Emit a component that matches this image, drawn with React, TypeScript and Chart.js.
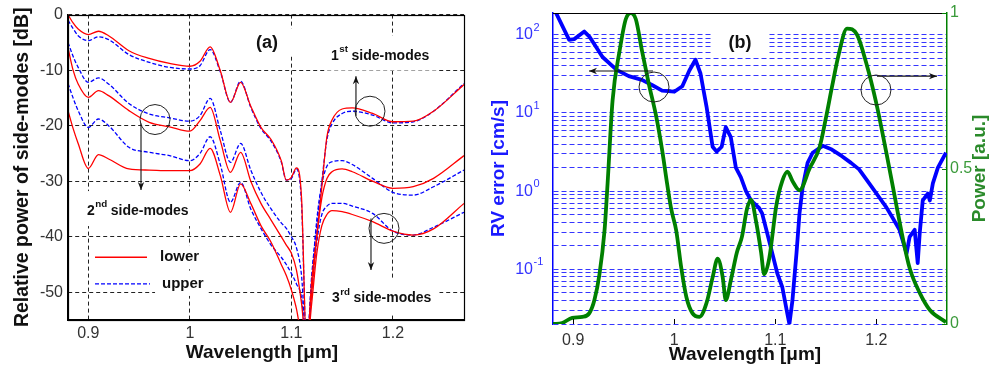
import React, { useEffect, useRef } from "react";
import { Chart, registerables } from "chart.js";

Chart.register(...registerables);

const FONT = "Arial, 'Liberation Sans', Helvetica, sans-serif";
Chart.defaults.font.family = FONT;

// ================= Panel (a): relative power of side-modes [dB] =================
const wavelengthA = [0.88, 0.885, 0.89, 0.9, 0.91, 0.92, 0.94, 0.96, 0.98, 1.0, 1.01, 1.02, 1.03, 1.04, 1.05, 1.06, 1.07, 1.08, 1.09, 1.095, 1.1, 1.105, 1.11, 1.115, 1.12, 1.125, 1.13, 1.135, 1.14, 1.15, 1.16, 1.18, 1.2, 1.22, 1.24, 1.27];
const firstLower = [0, -1.5, -2.6, -3.6, -3.0, -3.8, -6.5, -7.9, -8.8, -9.3, -8.4, -5.8, -10.1, -15.8, -12.2, -16.5, -20.3, -22.5, -26.3, -29.8, -29.3, -27.6, -33, -60, -48, -40, -31, -22, -19, -17, -16.8, -17.8, -19.3, -19.2, -17.4, -12.6];
const firstUpper = [-1, -2.5, -3.8, -4.7, -4.0, -4.5, -7.2, -8.6, -9.5, -9.8, -9.2, -6.3, -10.3, -15.8, -12.0, -16.7, -20.5, -22.8, -26.5, -29.8, -29.5, -27.8, -34, -60, -47, -38, -30, -22.5, -19.7, -17.8, -17.4, -18.1, -19.5, -19.3, -17.4, -12.4];
const secondLower = [-6, -10, -12.5, -14.9, -13.7, -14.6, -17.3, -19.4, -20.2, -21, -19.1, -16.7, -22.7, -28.4, -24.8, -30, -34, -37, -40, -41.5, -43, -46, -52, -60, -50, -40, -33, -29.5, -28.3, -27.8, -28.3, -30, -31.3, -31, -29.5, -25.4];
const secondUpper = [-5, -7.5, -9.5, -12.2, -11.4, -12.5, -16, -17.9, -18.6, -19.2, -18.2, -15.1, -20.9, -26.6, -23.2, -28, -32, -35, -37.5, -38.5, -40, -42, -47, -60, -48, -37, -30.5, -27.3, -26.5, -26.3, -27, -29.5, -32, -32.5, -31, -28];
const thirdLower = [-17.3, -20.5, -23.2, -27.7, -25.2, -26, -27.8, -28, -28.1, -28.1, -26.9, -24.1, -29, -35.6, -30.5, -34, -38, -41, -45, -47, -49.6, -53, -58, -60, -52, -43, -38, -36, -35.3, -35.5, -36, -37.3, -39, -39.7, -38.6, -34];
const thirdUpper = [-12.4, -15, -17.3, -20.3, -18.8, -20, -23.9, -24.8, -25.4, -26.3, -25, -22, -27, -33.8, -30.2, -35, -38.5, -41.5, -43.7, -45, -46.6, -48.5, -51, -60, -50, -41, -36, -34.5, -34, -34, -34.5, -35.8, -39, -39.7, -38.3, -35.6];
const wavelengthTicks = [0.9, 1.0, 1.1, 1.2];
const relPowerTicks = [0, -10, -20, -30, -40, -50];

// ================= Panel (b): RV error and power =================
const rvWavelength = [0.881, 0.883, 0.896, 0.901, 0.911, 0.916, 0.929, 0.943, 0.955, 0.968, 0.978, 0.988, 1.0, 1.008, 1.015, 1.021, 1.026, 1.032, 1.038, 1.042, 1.047, 1.051, 1.056, 1.061, 1.066, 1.071, 1.076, 1.084, 1.087, 1.094, 1.102, 1.107, 1.112, 1.114, 1.117, 1.121, 1.124, 1.127, 1.132, 1.137, 1.147, 1.156, 1.166, 1.175, 1.183, 1.193, 1.203, 1.21, 1.216, 1.223, 1.23, 1.233, 1.238, 1.241, 1.243, 1.246, 1.251, 1.253, 1.256, 1.261, 1.265, 1.269];
const rvError = [230, 190, 86, 88, 110, 95, 52, 35.6, 29.6, 26.5, 22.8, 19.3, 18.7, 22, 35, 48, 32, 12, 3.7, 3.2, 3.7, 6.6, 4.9, 2.0, 1.5, 1.0, 0.76, 0.61, 0.52, 0.23, 0.089, 0.059, 0.027, 0.02, 0.04, 0.16, 0.52, 1.1, 2.3, 3.1, 3.8, 3.4, 2.8, 2.3, 1.9, 1.26, 0.83, 0.62, 0.46, 0.32, 0.16, 0.26, 0.32, 0.12, 0.29, 0.76, 0.93, 0.76, 1.26, 2.0, 2.5, 3.1];
const powerWavelength = [0.88, 0.889, 0.899, 0.909, 0.916, 0.921, 0.926, 0.931, 0.934, 0.939, 0.946, 0.952, 0.957, 0.962, 0.968, 0.975, 0.982, 0.988, 0.993, 0.997, 1.002, 1.007, 1.012, 1.018, 1.025, 1.032, 1.038, 1.043, 1.048, 1.051, 1.056, 1.062, 1.067, 1.072, 1.076, 1.081, 1.086, 1.089, 1.094, 1.101, 1.107, 1.112, 1.117, 1.124, 1.134, 1.144, 1.15, 1.156, 1.163, 1.171, 1.181, 1.19, 1.2, 1.21, 1.22, 1.226, 1.233, 1.243, 1.253, 1.269];
const powerNorm = [0.0, 0.003, 0.02, 0.023, 0.035, 0.077, 0.16, 0.3, 0.45, 0.72, 0.88, 0.98, 1.0, 0.98, 0.88, 0.77, 0.67, 0.56, 0.45, 0.37, 0.3, 0.18, 0.087, 0.035, 0.023, 0.068, 0.15, 0.21, 0.15, 0.077, 0.14, 0.23, 0.28, 0.37, 0.4, 0.33, 0.23, 0.16, 0.21, 0.38, 0.46, 0.49, 0.46, 0.43, 0.5, 0.57, 0.66, 0.76, 0.87, 0.95, 0.93, 0.84, 0.71, 0.55, 0.38, 0.28, 0.18, 0.1, 0.045, 0.006];
const rvGridValues = [0.02, 0.03, 0.04, 0.05, 0.06, 0.07, 0.08, 0.09, 0.1, 0.2, 0.3, 0.4, 0.5, 0.6, 0.7, 0.8, 0.9, 1, 2, 3, 4, 5, 6, 7, 8, 9, 10, 20, 30, 40, 50, 60, 70, 80, 90, 100];
const rvDecadeValues = [100, 10, 1, 0.1];
const rvDecadeExponents = ["2", "1", "0", "-1"];
const powerTicks = [0, 0.5, 1];

// ================= styles & annotations =================
const RED = "#ff0000";
const BLUE = "#0000ff";
const GRID_BLUE = "#3535ff";
const GREEN = "#008000";

const annotA = {
  panel: { text: "(a)", x: 1.076, y: -5.2 },
  labels: [
    { order: "1", sup: "st", x: 1.139, y: -8.1 },
    { order: "2", sup: "nd", x: 0.8987, y: -36.1 },
    { order: "3", sup: "rd", x: 1.14, y: -51.8 },
  ],
  arrows: [
    { x: 1.1636, y1: -18.2, y2: -11.1 },
    { x: 0.9519, y1: -19.6, y2: -31.6 },
    { x: 1.1784, y1: -36.7, y2: -46.0 },
  ],
  circles: [
    { x: 1.1774, y: -17.4 },
    { x: 0.9657, y: -18.9 },
    { x: 1.1912, y: -38.5 },
  ],
  legend: [
    { label: "lower", color: RED, dash: [] as number[], x1: 0.9066, x2: 0.9578, y: -43.7, tx: 0.9706 },
    { label: "upper", color: BLUE, dash: [4, 2], x1: 0.9066, x2: 0.9608, y: -48.5, tx: 0.9726 },
  ],
};

const annotB = {
  panel: { text: "(b)", x: 1.0651, p: 0.9035 },
  arrows: [
    { y: 0.8135, x1: 0.979, x2: 0.9156 },
    { y: 0.797, x1: 1.2007, x2: 1.2601 },
  ],
  circles: [
    { x: 0.98, p: 0.762 },
    { x: 1.1997, p: 0.7524 },
  ],
};

function xy(xs: number[], ys: number[]) {
  return xs.map((x, i) => ({ x, y: ys[i] }));
}
function setTicks(values: number[]) {
  return (scale: any) => {
    scale.ticks = values.map((value) => ({ value }));
  };
}
function fmt(v: any) {
  return String(Math.round(Number(v) * 100) / 100);
}
function drawArrow(ctx: CanvasRenderingContext2D, x1: number, y1: number, x2: number, y2: number) {
  ctx.beginPath();
  ctx.moveTo(x1, y1);
  ctx.lineTo(x2, y2);
  ctx.stroke();
  const a = Math.atan2(y2 - y1, x2 - x1);
  const L = 8, W = 3.2;
  ctx.beginPath();
  ctx.moveTo(x2, y2);
  ctx.lineTo(x2 - L * Math.cos(a) + W * Math.sin(a), y2 - L * Math.sin(a) - W * Math.cos(a));
  ctx.lineTo(x2 - L * 0.7 * Math.cos(a), y2 - L * 0.7 * Math.sin(a));
  ctx.lineTo(x2 - L * Math.cos(a) - W * Math.sin(a), y2 - L * Math.sin(a) + W * Math.cos(a));
  ctx.closePath();
  ctx.fill();
}
function drawCircle(ctx: CanvasRenderingContext2D, cx: number, cy: number, r: number) {
  ctx.beginPath();
  ctx.arc(cx, cy, r, 0, Math.PI * 2);
  ctx.stroke();
}
function measureOrdinal(ctx: CanvasRenderingContext2D, order: string, sup: string, size: number) {
  ctx.font = `bold ${size}px ${FONT}`;
  const w1 = ctx.measureText(order).width;
  const w3 = ctx.measureText("side-modes").width;
  ctx.font = `bold ${size * 0.7}px ${FONT}`;
  const w2 = ctx.measureText(sup).width;
  return { w1, w2, w3, total: w1 + w2 + 4 + w3 };
}
function drawOrdinal(ctx: CanvasRenderingContext2D, x: number, y: number, order: string, sup: string, size: number) {
  const m = measureOrdinal(ctx, order, sup, size);
  ctx.textAlign = "left";
  ctx.textBaseline = "alphabetic";
  ctx.font = `bold ${size}px ${FONT}`;
  ctx.fillText(order, x, y);
  ctx.font = `bold ${size * 0.7}px ${FONT}`;
  ctx.fillText(sup, x + m.w1 + 0.5, y - size * 0.55);
  ctx.font = `bold ${size}px ${FONT}`;
  ctx.fillText("side-modes", x + m.w1 + m.w2 + 4, y);
}
function rotatedText(ctx: CanvasRenderingContext2D, text: string, x: number, y: number, font: string, color: string) {
  ctx.save();
  ctx.translate(x, y);
  ctx.rotate(-Math.PI / 2);
  ctx.font = font;
  ctx.fillStyle = color;
  ctx.textAlign = "center";
  ctx.textBaseline = "middle";
  ctx.fillText(text, 0, 0);
  ctx.restore();
}

const SIDE_SIZE = 14;
const LEG_SIZE = 15;

const panelAPlugin = {
  id: "panelA",
  beforeDatasetsDraw(chart: any) {
    const { ctx } = chart;
    const xs = chart.scales.x, ys = chart.scales.y;
    ctx.save();
    ctx.fillStyle = "#fff";
    const pcx = xs.getPixelForValue(annotA.panel.x), pcy = ys.getPixelForValue(annotA.panel.y);
    ctx.fillRect(pcx - 27, pcy - 15, 54, 28);
    for (const l of annotA.labels) {
      const px = xs.getPixelForValue(l.x), py = ys.getPixelForValue(l.y);
      const m = measureOrdinal(ctx, l.order, l.sup, SIDE_SIZE);
      ctx.fillStyle = "#fff";
      ctx.fillRect(px - 5, py - 24, m.total + 13, 35);
    }
    for (const g of annotA.legend) {
      const tx = xs.getPixelForValue(g.tx), ty = ys.getPixelForValue(g.y);
      ctx.font = `bold ${LEG_SIZE}px ${FONT}`;
      const w = ctx.measureText(g.label).width;
      ctx.fillStyle = "#fff";
      ctx.fillRect(tx - 7, ty - 12, w + 12, 24);
    }
    ctx.restore();
  },
  afterDatasetsDraw(chart: any) {
    const { ctx, chartArea: ca } = chart;
    const xs = chart.scales.x, ys = chart.scales.y;
    ctx.save();
    ctx.strokeStyle = "#000";
    ctx.lineWidth = 1.2;
    ctx.setLineDash([]);
    ctx.strokeRect(Math.round(ca.left) + 0.5, Math.round(ca.top) + 0.5, Math.round(ca.right - ca.left), Math.round(ca.bottom - ca.top));
    ctx.fillStyle = "#111";
    ctx.font = `bold 18px ${FONT}`;
    ctx.textAlign = "center";
    ctx.textBaseline = "middle";
    ctx.fillText(annotA.panel.text, xs.getPixelForValue(annotA.panel.x), ys.getPixelForValue(annotA.panel.y));
    for (const l of annotA.labels) {
      drawOrdinal(ctx, xs.getPixelForValue(l.x), ys.getPixelForValue(l.y), l.order, l.sup, SIDE_SIZE);
    }
    ctx.strokeStyle = "#111";
    ctx.fillStyle = "#111";
    ctx.lineWidth = 1.1;
    for (const a of annotA.arrows) {
      const px = xs.getPixelForValue(a.x);
      drawArrow(ctx, px, ys.getPixelForValue(a.y1), px, ys.getPixelForValue(a.y2));
    }
    ctx.strokeStyle = "#222";
    ctx.lineWidth = 1;
    for (const c of annotA.circles) {
      drawCircle(ctx, xs.getPixelForValue(c.x), ys.getPixelForValue(c.y), 15);
    }
    for (const g of annotA.legend) {
      const py = ys.getPixelForValue(g.y);
      ctx.strokeStyle = g.color;
      ctx.lineWidth = 1.3;
      ctx.setLineDash(g.dash);
      ctx.beginPath();
      ctx.moveTo(xs.getPixelForValue(g.x1), py);
      ctx.lineTo(xs.getPixelForValue(g.x2), py);
      ctx.stroke();
      ctx.setLineDash([]);
      ctx.fillStyle = "#111";
      ctx.font = `bold ${LEG_SIZE}px ${FONT}`;
      ctx.textAlign = "left";
      ctx.textBaseline = "middle";
      ctx.fillText(g.label, xs.getPixelForValue(g.tx), py);
    }
    rotatedText(ctx, "Relative power of side-modes [dB]", ca.left - 45, (ca.top + ca.bottom) / 2, `bold 19.5px ${FONT}`, "#111");
    ctx.fillStyle = "#111";
    ctx.font = `bold 19px ${FONT}`;
    ctx.textAlign = "center";
    ctx.textBaseline = "middle";
    ctx.fillText("Wavelength [\u03bcm]", (ca.left + ca.right) / 2 - 4, ca.bottom + 33);
    ctx.restore();
  },
};

const panelBPlugin = {
  id: "panelB",
  beforeDatasetsDraw(chart: any) {
    const { ctx } = chart;
    const xs = chart.scales.x, ps = chart.scales.y1;
    ctx.save();
    ctx.fillStyle = "#fff";
    const cx = xs.getPixelForValue(annotB.panel.x), cy = ps.getPixelForValue(annotB.panel.p);
    ctx.fillRect(cx - 27, cy - 12, 54, 24);
    ctx.restore();
  },
  afterDatasetsDraw(chart: any) {
    const { ctx, chartArea: ca } = chart;
    const xs = chart.scales.x, ys = chart.scales.y, ps = chart.scales.y1;
    ctx.save();
    ctx.strokeStyle = "#000";
    ctx.lineWidth = 1.2;
    ctx.beginPath();
    ctx.moveTo(ca.left, Math.round(ca.top) + 0.5);
    ctx.lineTo(ca.right, Math.round(ca.top) + 0.5);
    ctx.stroke();
    ctx.lineWidth = 1;
    for (const t of wavelengthTicks) {
      const px = Math.round(xs.getPixelForValue(t)) + 0.5;
      ctx.beginPath();
      ctx.moveTo(px, ca.bottom);
      ctx.lineTo(px, ca.bottom - 5);
      ctx.stroke();
    }
    ctx.strokeStyle = GREEN;
    for (const t of powerTicks) {
      const py = Math.round(ps.getPixelForValue(t)) + 0.5;
      ctx.beginPath();
      ctx.moveTo(ca.right, py);
      ctx.lineTo(ca.right - 5, py);
      ctx.stroke();
    }
    ctx.fillStyle = "#111";
    ctx.font = `bold 18px ${FONT}`;
    ctx.textAlign = "center";
    ctx.textBaseline = "middle";
    ctx.fillText(annotB.panel.text, xs.getPixelForValue(annotB.panel.x), ps.getPixelForValue(annotB.panel.p));
    ctx.strokeStyle = "#111";
    ctx.fillStyle = "#111";
    ctx.lineWidth = 1.1;
    for (const a of annotB.arrows) {
      const py = ps.getPixelForValue(a.y);
      drawArrow(ctx, xs.getPixelForValue(a.x1), py, xs.getPixelForValue(a.x2), py);
    }
    ctx.strokeStyle = "#222";
    ctx.lineWidth = 1;
    for (const c of annotB.circles) {
      drawCircle(ctx, xs.getPixelForValue(c.x), ps.getPixelForValue(c.p), 15);
    }
    rvDecadeValues.forEach((v, i) => {
      const py = ys.getPixelForValue(v);
      const xr = ca.left - 20;
      ctx.fillStyle = "#3333ff";
      ctx.font = `16px ${FONT}`;
      ctx.textAlign = "right";
      ctx.textBaseline = "middle";
      ctx.fillText("10", xr, py);
      ctx.font = `11px ${FONT}`;
      ctx.textAlign = "left";
      ctx.fillText(rvDecadeExponents[i], xr + 0.5, py - 7);
    });
    rotatedText(ctx, "RV error [cm/s]", ca.left - 54, (ca.top + ca.bottom) / 2, `bold 19px ${FONT}`, "#1a1aff");
    rotatedText(ctx, "Power [a.u.]", ca.right + 33, (ca.top + ca.bottom) / 2, `bold 19px ${FONT}`, "#2a8a2a");
    ctx.fillStyle = "#111";
    ctx.font = `bold 19px ${FONT}`;
    ctx.textAlign = "center";
    ctx.textBaseline = "middle";
    ctx.fillText("Wavelength [\u03bcm]", (ca.left + ca.right) / 2 - 5, ca.bottom + 31);
    ctx.restore();
  },
};

function configA(): any {
  const series = [
    { data: firstLower, color: RED, dash: [] as number[] },
    { data: firstUpper, color: BLUE, dash: [4, 2] },
    { data: secondLower, color: RED, dash: [] as number[] },
    { data: secondUpper, color: BLUE, dash: [4, 2] },
    { data: thirdLower, color: RED, dash: [] as number[] },
    { data: thirdUpper, color: BLUE, dash: [4, 2] },
  ];
  return {
    type: "line",
    data: {
      datasets: series.map((s) => ({
        data: xy(wavelengthA, s.data),
        borderColor: s.color,
        borderDash: s.dash,
        borderWidth: 1.3,
        pointRadius: 0,
        fill: false,
        cubicInterpolationMode: "monotone",
      })),
    },
    options: {
      animation: false,
      responsive: false,
      events: [],
      layout: { padding: { top: 14, right: 26, left: 0, bottom: 0 } },
      plugins: { legend: { display: false }, tooltip: { enabled: false } },
      scales: {
        x: {
          type: "linear",
          min: 0.88,
          max: 1.27,
          afterBuildTicks: setTicks(wavelengthTicks),
          afterFit: (s: any) => { s.height = 51; },
          ticks: { color: "#333", font: { size: 16, family: FONT }, padding: 4, maxRotation: 0, autoSkip: false, callback: fmt },
          grid: { color: "#222", lineWidth: 1, drawTicks: false },
          border: { display: true, color: "#000", width: 1.2, dash: [4, 3] },
        },
        y: {
          type: "linear",
          min: -55,
          max: 0,
          afterBuildTicks: setTicks(relPowerTicks),
          afterFit: (s: any) => { s.width = 68; },
          ticks: { color: "#333", font: { size: 16, family: FONT }, padding: 5, autoSkip: false, callback: fmt },
          grid: { color: "#222", lineWidth: 1, drawTicks: false },
          border: { display: true, color: "#000", width: 1.2, dash: [4, 3] },
        },
      },
    },
    plugins: [panelAPlugin],
  };
}

function configB(): any {
  return {
    type: "line",
    data: {
      datasets: [
        {
          data: xy(powerWavelength, powerNorm),
          yAxisID: "y1",
          borderColor: GREEN,
          borderWidth: 3.8,
          pointRadius: 0,
          fill: false,
          cubicInterpolationMode: "monotone",
          borderJoinStyle: "round",
        },
        {
          data: xy(rvWavelength, rvError),
          yAxisID: "y",
          borderColor: BLUE,
          borderWidth: 3.8,
          pointRadius: 0,
          fill: false,
          tension: 0,
          borderJoinStyle: "round",
        },
      ],
    },
    options: {
      animation: false,
      responsive: false,
      events: [],
      layout: { padding: { top: 13, right: 0, left: 0, bottom: 0 } },
      plugins: { legend: { display: false }, tooltip: { enabled: false } },
      scales: {
        x: {
          type: "linear",
          min: 0.88,
          max: 1.27,
          afterBuildTicks: setTicks(wavelengthTicks),
          afterFit: (s: any) => { s.height = 47; },
          ticks: { color: "#333", font: { size: 16, family: FONT }, padding: 7, maxRotation: 0, autoSkip: false, callback: fmt },
          grid: { display: false, drawTicks: false },
          border: { display: false },
        },
        y: {
          type: "logarithmic",
          position: "left",
          min: 0.02,
          max: 190,
          afterBuildTicks: setTicks(rvGridValues),
          afterFit: (s: any) => { s.width = 63; },
          ticks: { display: false, autoSkip: false },
          grid: { color: GRID_BLUE, lineWidth: 1, drawTicks: false },
          border: { display: true, color: BLUE, width: 1.5, dash: [5, 3] },
        },
        y1: {
          type: "linear",
          position: "right",
          min: 0,
          max: 1,
          afterBuildTicks: setTicks(powerTicks),
          afterFit: (s: any) => { s.width = 45; },
          ticks: { color: "#3a9a3a", font: { size: 16, family: FONT }, padding: 3, autoSkip: false, callback: fmt },
          grid: { display: false, drawTicks: false },
          border: { display: true, color: GREEN, width: 1.5 },
        },
      },
    },
    plugins: [panelBPlugin],
  };
}

export default function App() {
  const refA = useRef<HTMLCanvasElement>(null);
  const refB = useRef<HTMLCanvasElement>(null);
  useEffect(() => {
    const a = new Chart(refA.current as HTMLCanvasElement, configA());
    const b = new Chart(refB.current as HTMLCanvasElement, configB());
    return () => {
      a.destroy();
      b.destroy();
    };
  }, []);
  return (
    <div style={{ position: "absolute", left: 0, top: 0, width: 992, height: 371, background: "#fff", overflow: "hidden" }}>
      <canvas ref={refA} width={490} height={371} style={{ position: "absolute", left: 0, top: 0, width: 490, height: 371 }} />
      <canvas ref={refB} width={502} height={371} style={{ position: "absolute", left: 490, top: 0, width: 502, height: 371 }} />
    </div>
  );
}
